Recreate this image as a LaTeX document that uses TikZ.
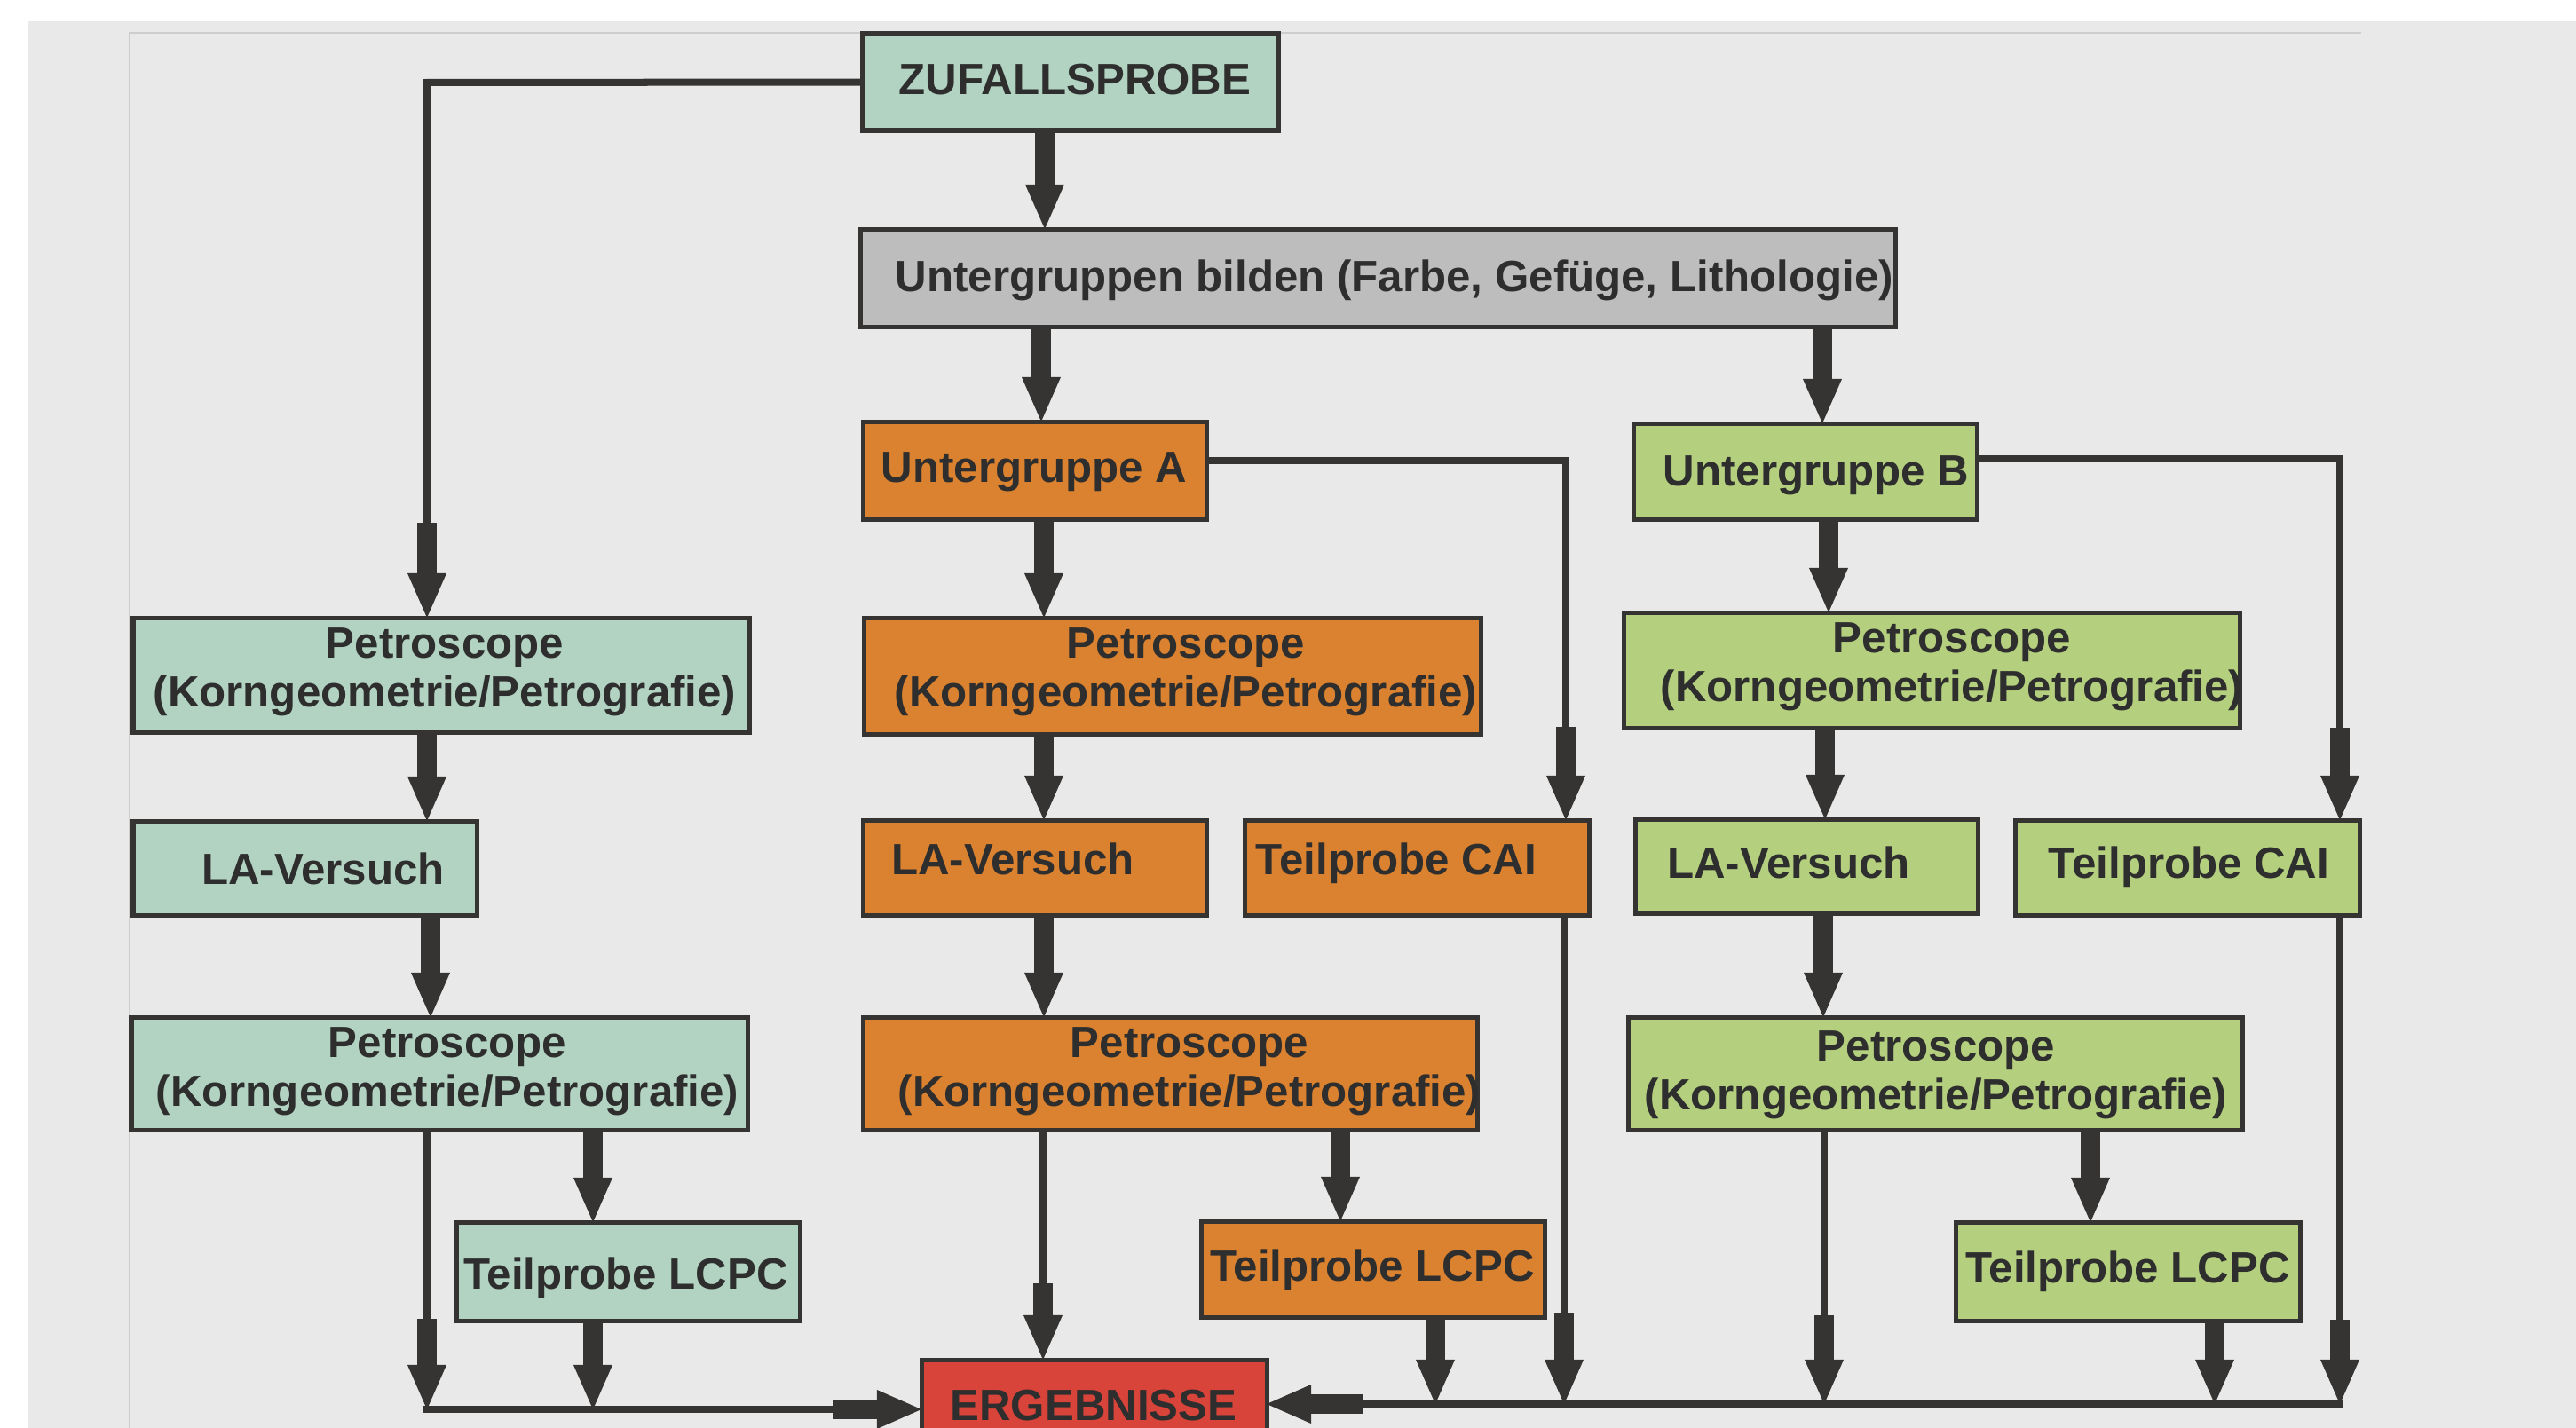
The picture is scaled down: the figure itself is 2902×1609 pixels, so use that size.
\documentclass[tikz,border=0pt]{standalone}
\usepackage{fontspec}
\setmainfont{Liberation Sans}
\usetikzlibrary{arrows.meta}
\definecolor{bgc}{HTML}{E9E9E9}
\definecolor{framec}{HTML}{CDCDCD}
\definecolor{lc}{HTML}{363433}
\definecolor{tc}{HTML}{2E2E2E}
\definecolor{cTeal}{HTML}{B2D3C2}
\definecolor{cGray}{HTML}{BDBDBD}
\definecolor{cOrange}{HTML}{DA8230}
\definecolor{cGreen}{HTML}{B4D07F}
\definecolor{cRed}{HTML}{D8443A}
\newcommand\mkbox[6]{\node[box,fill=#2,minimum width={(#5-#3)*0.01cm},minimum height={(#6-#4)*0.01cm}] (#1) at ({(#3+#5)/2},{(#4+#6)/2}) {};}
\tikzset{
  box/.style={draw=lc, line width=0.05cm, inner sep=0pt, outer sep=0pt},
  txt/.style={text=tc, font=\fontsize{14pt}{15.4pt}\selectfont\bfseries, inner sep=0pt, anchor=base, align=center},
  thinline/.style={draw=lc, line width=0.08cm, line join=miter},
  fat/.style={draw=lc, line width=0.22cm, -{Triangle[width=0.44cm,length=0.5cm,line width=0pt]}},
}
\begin{document}
\begin{tikzpicture}[x=0.01cm,y=-0.01cm]
\useasboundingbox (0,0) rectangle (2902,1609);
\clip (0,0) rectangle (2902,1609);
\fill[white] (0,0) rectangle (2902,1609);
\fill[bgc] (32,24) rectangle (2902,1609);
\draw[framec, line width=0.015cm] (146,1609) -- (146,37) -- (2660,37);

% boxes
\mkbox{Z}{cTeal}{971}{38}{1440}{147}
\mkbox{U}{cGray}{969}{258}{2135}{368}
\mkbox{UA}{cOrange}{972}{475}{1359}{585}
\mkbox{UB}{cGreen}{1840}{477}{2227}{585}
\mkbox{PL1}{cTeal}{150}{696}{844}{825}
\mkbox{PM1}{cOrange}{973}{696}{1668}{827}
\mkbox{PR1}{cGreen}{1829}{690}{2523}{820}
\mkbox{LAL}{cTeal}{150}{925}{537}{1031}
\mkbox{LAM}{cOrange}{972}{924}{1359}{1031}
\mkbox{CAIM}{cOrange}{1402}{924}{1790}{1031}
\mkbox{LAR}{cGreen}{1842}{923}{2228}{1029}
\mkbox{CAIR}{cGreen}{2270}{924}{2658}{1031}
\mkbox{PL2}{cTeal}{148}{1146}{842}{1273}
\mkbox{PM2}{cOrange}{972}{1146}{1664}{1273}
\mkbox{PR2}{cGreen}{1834}{1146}{2526}{1273}
\mkbox{LCL}{cTeal}{514}{1377}{901}{1488}
\mkbox{LCM}{cOrange}{1353}{1376}{1740}{1484}
\mkbox{LCR}{cGreen}{2203}{1377}{2591}{1488}
\mkbox{ERG}{cRed}{1038}{1532}{1427}{1690}

% texts (two-line texts: anchor base = last line)
\node[txt] (Zt) at (1211,106) {ZUFALLSPROBE};
\node[txt, anchor=base west] (Ut) at (1008,328) {Untergruppen bilden (Farbe, Gefüge, Lithologie)};
\node[txt] (UAt) at (1165,543) {Untergruppe A};
\node[txt] (UBt) at (2046,547) {Untergruppe B};
\node[txt] (PL1t) at (501,796) {Petroscope\\(Korngeometrie/Petrografie)};
\node[txt] (PM1t) at (1336,796) {Petroscope\\(Korngeometrie/Petrografie)};
\node[txt] (PR1t) at (2199,790) {Petroscope\\(Korngeometrie/Petrografie)};
\node[txt] (LALt) at (364,996) {LA-Versuch};
\node[txt] (LAMt) at (1141,985) {LA-Versuch};
\node[txt] (CAIMt) at (1573,985) {Teilprobe CAI};
\node[txt] (LARt) at (2015,989) {LA-Versuch};
\node[txt] (CAIRt) at (2466,989) {Teilprobe CAI};
\node[txt] (PL2t) at (504,1246) {Petroscope\\(Korngeometrie/Petrografie)};
\node[txt] (PM2t) at (1340,1246) {Petroscope\\(Korngeometrie/Petrografie)};
\node[txt] (PR2t) at (2181,1250) {Petroscope\\(Korngeometrie/Petrografie)};
\node[txt] (LCLt) at (705,1452) {Teilprobe LCPC};
\node[txt] (LCMt) at (1546,1443) {Teilprobe LCPC};
\node[txt] (LCRt) at (2397,1445) {Teilprobe LCPC};
\node[txt] (ERGt) at (1232,1600) {ERGEBNISSE};

% bus coordinates
\coordinate (busL) at (481,1588);
\coordinate (busR) at (2636,1582);

% top
\draw[fat] (1177,0 |- Z.south) -- (1177,0 |- U.north);
\draw[thinline] (Z.west) -- (481,93) -- (481,590);
\draw[fat] (481,589) -- (481,0 |- PL1.north);
\draw[fat] (1173,0 |- U.south) -- (1173,0 |- UA.north);
\draw[fat] (2053,0 |- U.south) -- (2053,0 |- UB.north);

% group A
\draw[thinline] (UA.east |- 0,519) -- (1764,519) -- (1764,820);
\draw[fat] (1764,819) -- (1764,0 |- CAIM.north);
\draw[fat] (1176,0 |- UA.south) -- (1176,0 |- PM1.north);
\draw[fat] (1176,0 |- PM1.south) -- (1176,0 |- LAM.north);
\draw[fat] (1176,0 |- LAM.south) -- (1176,0 |- PM2.north);
\draw[fat] (1510,0 |- PM2.south) -- (1510,0 |- LCM.north);

% group B
\draw[thinline] (UB.east |- 0,517) -- (2636,517) -- (2636,821);
\draw[fat] (2636,820) -- (2636,0 |- CAIR.north);
\draw[fat] (2060,0 |- UB.south) -- (2060,0 |- PR1.north);
\draw[fat] (2056,0 |- PR1.south) -- (2056,0 |- LAR.north);
\draw[fat] (2054,0 |- LAR.south) -- (2054,0 |- PR2.north);
\draw[fat] (2355,0 |- PR2.south) -- (2355,0 |- LCR.north);

% left column
\draw[fat] (481,0 |- PL1.south) -- (481,0 |- LAL.north);
\draw[fat] (485,0 |- LAL.south) -- (485,0 |- PL2.north);
\draw[fat] (668,0 |- PL2.south) -- (668,0 |- LCL.north);

% into bottom bus (left)
\draw[thinline] (481,0 |- PL2.south) -- (481,1487);
\draw[fat] (481,1486) -- (busL);
\draw[fat] (668,0 |- LCL.south) -- (668,0 |- busL);
\draw[thinline] ([xshift=-0.04cm]busL) -- (939,1588);
\draw[fat] (938,1588) -- (ERG.west |- busL);

% middle into ERGEBNISSE
\draw[thinline] (1175,0 |- PM2.south) -- (1175,1447);
\draw[fat] (1175,1446) -- (1175,0 |- ERG.north);

% into bottom bus (right)
\draw[thinline] (1762,0 |- CAIM.south) -- (1762,1480);
\draw[fat] (1762,1479) -- (1762,0 |- busR);
\draw[fat] (1617,0 |- LCM.south) -- (1617,0 |- busR);
\draw[thinline] (2055,0 |- PR2.south) -- (2055,1483);
\draw[fat] (2055,1482) -- (2055,0 |- busR);
\draw[fat] (2495,0 |- LCR.south) -- (2495,0 |- busR);
\draw[thinline] (2636,0 |- CAIR.south) -- (2636,1488);
\draw[fat] (2636,1487) -- (busR);
\draw[thinline] ([xshift=0.04cm]busR) -- (1535,1582);
\draw[fat] (1536,1582) -- (ERG.east |- busR);
\end{tikzpicture}
\end{document}
